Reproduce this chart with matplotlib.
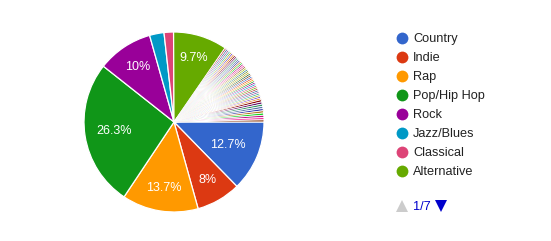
import matplotlib
matplotlib.use("Agg")
import matplotlib.pyplot as plt
import numpy as np

plt.rcParams['font.family'] = ['Liberation Sans', 'DejaVu Sans']

main_labels = ["Country", "Indie", "Rap", "Pop/Hip Hop", "Rock", "Jazz/Blues", "Classical", "Alternative"]
main_values = [12.7, 8.0, 13.7, 26.3, 10.0, 2.6, 1.7, 9.7]
main_colors = ["#3366cc", "#dc3912", "#ff9900", "#109618", "#990099", "#0099c6", "#dd4477", "#66aa00"]

# many tiny slices (legend pages 2..7)
small_values = [0.3, 0.3, 0.3, 0.3, 0.3, 0.3, 0.3, 0.3, 0.3, 0.3, 0.3, 0.3,
                0.3, 0.3, 0.3, 0.3, 0.3, 0.3, 0.3, 0.3, 0.3, 0.3, 0.3, 0.3,
                0.3, 0.3, 0.3, 0.3, 0.3, 0.3, 0.3, 0.3, 0.3, 0.3, 0.3, 0.3,
                0.3, 0.3, 0.4, 0.4, 0.4, 0.4, 0.4, 0.4, 0.4, 0.4, 0.4, 0.4]
small_labels = ["Genre %d" % (i + 9) for i in range(len(small_values))]
palette = ["#b82e2e", "#316395", "#994499", "#22aa99", "#aaaa11", "#6633cc", "#e67300",
           "#8b0707", "#651067", "#329262", "#5574a6", "#3b3eac", "#b77322", "#16d620",
           "#b91383", "#f4359e", "#9c5935", "#a9c413", "#2a778d", "#668d1c", "#bea413",
           "#0c5922", "#743411", "#3366cc", "#dc3912", "#ff9900", "#109618", "#990099",
           "#0099c6", "#dd4477", "#66aa00"]
small_colors = [palette[i % len(palette)] for i in range(len(small_values))]

values = main_values + small_values
colors = main_colors + small_colors
total = sum(values)

# label radius (fraction of pie radius) for slices that get a label
label_radius = {0: 0.65, 1: 0.75, 2: 0.74, 3: 0.67, 4: 0.73, 7: 0.74}

W, H = 551, 241
fig = plt.figure(figsize=(W / 100, H / 100), dpi=100)
fig.patch.set_facecolor("white")

cx, cy, r = 174, 122, 90
ax = fig.add_axes([(cx - r) / W, (H - cy - r) / H, 2 * r / W, 2 * r / H])
wedges, _ = ax.pie(values, colors=colors, startangle=0, counterclock=False,
                   wedgeprops=dict(edgecolor="white", linewidth=0.9), radius=1.0)
for w in wedges[len(main_values):]:
    w.set_linewidth(0.6)
ax.set_xlim(-1, 1)
ax.set_ylim(-1, 1)
ax.set_aspect("equal")
ax.axis("off")

# percent labels
ang = 0.0
for i, v in enumerate(values):
    span = v / total * 360
    pct = v / total * 100
    if i in label_radius:
        mid = np.deg2rad(-(ang + span / 2))
        txt = ("%.1f" % pct).rstrip("0").rstrip(".") + "%"
        rr = label_radius[i]
        ax.text(rr * np.cos(mid), rr * np.sin(mid), txt, ha="center", va="center",
                color="white", fontsize=9)
    ang += span

# legend overlay
lax = fig.add_axes([0, 0, 1, 1])
lax.set_xlim(0, W)
lax.set_ylim(H, 0)
lax.axis("off")
y0 = 37.5
for i, (lab, col) in enumerate(zip(main_labels, main_colors)):
    y = y0 + i * 19
    lax.plot(402, y, "o", color=col, markersize=8.5, markeredgewidth=0)
    lax.text(413, y, lab, va="center_baseline", ha="left", fontsize=9.2, color="#222222")

lax.plot(402, 206, marker="^", color="#cccccc", markersize=9, markeredgewidth=0)
lax.text(413, 206, "1/7", va="center_baseline", ha="left", fontsize=9.2, color="#0000cc")
lax.plot(441, 206, marker="v", color="#0000cc", markersize=9, markeredgewidth=0)

fig.savefig("out.png", dpi=100, facecolor="white")
